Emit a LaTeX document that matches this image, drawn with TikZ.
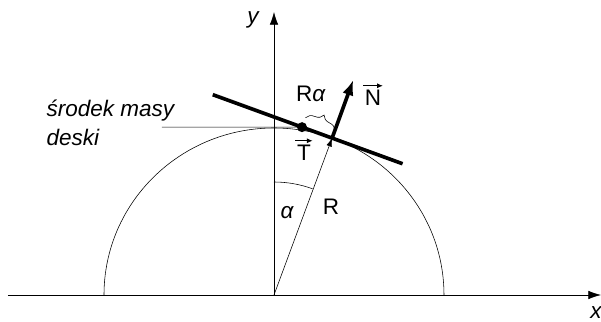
\documentclass[tikz,border=0pt]{standalone}
\usepackage{fontspec}
\setmainfont{Liberation Sans}
\usetikzlibrary{arrows.meta,calc,decorations.pathreplacing}

\begin{document}
\begin{tikzpicture}[x=0.025cm, y=0.025cm, every node/.style={font=\fontsize{16}{20.5}\selectfont, inner sep=1pt}]
    \tikzset{vecarrow/.style={line width=0.6pt, -{Latex[length=4pt,width=3.5pt]}}}
    \useasboundingbox (-274,-27) rectangle (327,295);
    \coordinate (O) at (0,0);
    \coordinate (C) at (58.1,156.9);
    \coordinate (M) at ($(C)+(160:32)$);
    \coordinate (L) at ($(C)+(160:127)$);
    \coordinate (Rr) at ($(C)+(-20:75)$);
    \coordinate (Ntip) at ($(C)+(70:62)$);
    \coordinate (P) at (-112,167.8);
    \coordinate (X1) at (-266,0);
    \coordinate (X2) at (327,0);
    \coordinate (Ytop) at (0,283);
    % axes and the half circle
    \draw[-{Latex[length=9pt,width=6pt]}] (X1) -- (X2);
    \draw[-{Latex[length=9pt,width=6pt]}] (O) -- (Ytop);
    \draw (170,0) arc[start angle=0, end angle=180, x radius=170, y radius=167];
    \node (lx) at (322,-18) {\itshape x};
    \node (ly) at (-21,275) {\itshape y};
    % radius and angle
    \draw[-{Latex[length=6pt,width=4pt]}] (O) -- (C);
    \draw (0,113) arc[start angle=90, end angle=70, radius=113];
    \node (la) at (13,82) {\itshape α};
    \node (lR) at (57,88) {R};
    % board
    \draw[line width=2.6pt] (L) -- (Rr);
    \fill (M) circle (5);
    \draw (P) -- (M);
    \node[anchor=west, align=left] (lm) at (-229,172.5) {\itshape środek masy\\\itshape deski};
    % forces
    \draw[line width=2.6pt, -{Latex[length=11pt,width=8pt]}] (C) -- (Ntip);
    \node (lN) at (99,197) {N};
    \draw[vecarrow] ([yshift=2pt]lN.north west) -- ([yshift=2pt]lN.north east);
    \node (lT) at (30,142) {T};
    \draw[vecarrow] ([yshift=2pt]lT.north west) -- ([yshift=2pt]lT.north east);
    \draw[decorate, decoration={brace, amplitude=7pt}] ($(M)+(70:10)$) -- ($(C)+(70:8)$);
    \node (lRa) at (37,201) {R\textit{α}};
\end{tikzpicture}
\end{document}
